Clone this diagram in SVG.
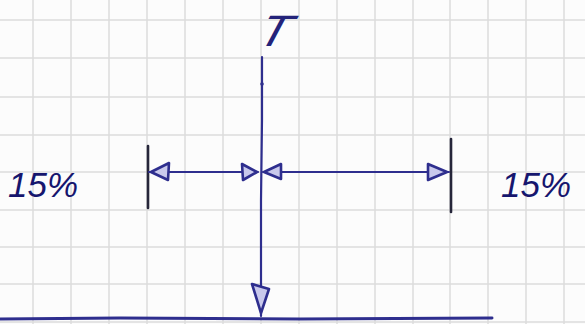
<svg xmlns="http://www.w3.org/2000/svg" width="585" height="324" viewBox="0 0 585 324">
<style>
.grid{stroke:#dcdcdc;stroke-width:1.5;fill:none}
.ink{stroke:#2e2e8e;stroke-width:2.2;fill:none;stroke-linecap:round;stroke-linejoin:round}
.tick{stroke:#26263a;stroke-width:2.6;fill:none;stroke-linecap:round}
.head{stroke:#2e2e8e;stroke-width:2.6;fill:#c9c9ec;stroke-linejoin:round}
.pct{font-family:"Liberation Sans",Arial,sans-serif;font-style:italic;font-size:35px;fill:#16166e}
.lbl{font-family:"Liberation Sans",Arial,sans-serif;font-size:44px;fill:#23237a}
</style>
<rect width="585" height="324" fill="#fcfcfc"/>
<g id="grid" class="grid">
<path d="M33 0V324M71 0V324M109 0V324M147 0V324M185 0V324M223 0V324M261 0V324M299 0V324M337 0V324M375 0V324M413 0V324M450 0V324M488 0V324M526 0V324M564 0V324"/>
<path d="M0 20H585M0 58H585M0 97H585M0 135H585M0 172H585M0 210H585M0 247H585M0 284H585M0 322H585"/>
</g>
<g id="label-T"><text class="lbl" x="0" y="0" transform="translate(253 46) skewX(-28) scale(1.15 1)">T</text></g>
<g id="ground"><path class="ink" d="M0 319L120 318L300 319L492 318" style="stroke-width:3"/></g>
<g id="tick-left"><path class="tick" d="M148 146L148 208"/></g>
<g id="tick-right"><path class="tick" d="M451 139L451 212"/></g>
<g id="label-left"><text class="pct" x="8" y="197">15%</text></g>
<g id="label-right"><text class="pct" x="501" y="197">15%</text></g>
<g id="connectors">
<path class="ink" d="M262 57L262 120L261 200L261 316"/>
<circle cx="262" cy="84" r="1.8" fill="#2e2e8e"/>
<path class="ink" d="M149 172L258 172"/>
<path class="ink" d="M263 172L449 172"/>
<path class="head" d="M252 284L269 289L261 313Z"/>
<path class="head" d="M151 172L169 163L168 180Z"/>
<path class="head" d="M242 164L257 172L243 180Z"/>
<path class="head" d="M264 172L281 164L281 179Z"/>
<path class="head" d="M428 164L447 172L428 180Z"/>
</g>
</svg>
